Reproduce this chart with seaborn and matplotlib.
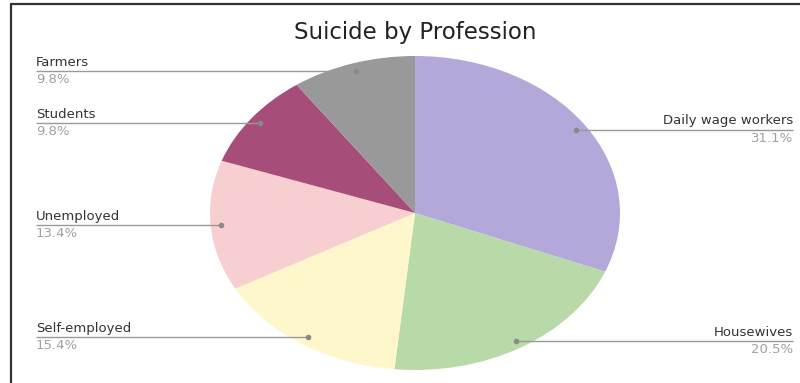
import numpy as np
import matplotlib
matplotlib.use("Agg")
import matplotlib.pyplot as plt
from matplotlib.lines import Line2D
import seaborn as sns

categories = ["Daily wage workers", "Housewives", "Self-employed", "Unemployed", "Students", "Farmers"]
values = [31.1, 20.5, 15.4, 13.4, 9.8, 9.8]
pct_labels = ["31.1%", "20.5%", "15.4%", "13.4%", "9.8%", "9.8%"]
colors = ["#b4a7d9", "#b8d9a8", "#fff7cc", "#f7cfd0", "#a64d79", "#999999"]
title = "Suicide by Profession"

sns.set_theme(style="white")
plt.rcParams["font.family"] = ["DejaVu Sans"]

W, H = 800, 383
fig = plt.figure(figsize=(W / 100, H / 100), dpi=100)
ax = fig.add_axes([0, 0, 1, 1])

cx, cy, rx, ry = 415, 213, 205, 157  # pixel geometry of pie ellipse

wedges, _ = ax.pie(values, colors=colors, startangle=90, counterclock=False,
                   radius=1, center=(0, 0), frame=False,
                   wedgeprops=dict(linewidth=0))
ax.set_aspect("auto")
ax.set_xlim(-cx / rx, (W - cx) / rx)
ax.set_ylim(-(H - cy) / ry, cy / ry)
ax.axis("off")

left_x = (36 - cx) / rx
right_x = (793 - cx) / rx

for w, name, pct in zip(wedges, categories, pct_labels):
    mid = np.deg2rad((w.theta1 + w.theta2) / 2)
    dx, dy = 0.95 * np.cos(mid), 0.95 * np.sin(mid)
    if dx >= 0:
        lx, ha = right_x, "right"
    else:
        lx, ha = left_x, "left"
    ax.plot([dx, lx], [dy, dy], color="#9a9a9a", lw=1.0, solid_capstyle="butt", zorder=3)
    ax.plot([dx], [dy], marker="o", ms=3, color="#8a8a8a", zorder=4)
    ax.annotate(name, xy=(lx, dy), xytext=(0, 1.5), textcoords="offset points",
                ha=ha, va="bottom", fontsize=9.5, color="#333333")
    ax.annotate(pct, xy=(lx, dy), xytext=(0, -1.5), textcoords="offset points",
                ha=ha, va="top", fontsize=9.5, color="#a0a0a0")

fig.text(cx / W, 1 - 33 / H, title, ha="center", va="center", fontsize=16.5, color="#222222")

# frame lines (top and left)
fig.add_artist(Line2D([11 / W, 1], [1 - 3.5 / H, 1 - 3.5 / H], transform=fig.transFigure,
                      color="#333333", lw=1.6))
fig.add_artist(Line2D([11 / W, 11 / W], [0, 1 - 3.5 / H], transform=fig.transFigure,
                      color="#333333", lw=1.6))

fig.savefig("out.png", dpi=100, facecolor="white")
